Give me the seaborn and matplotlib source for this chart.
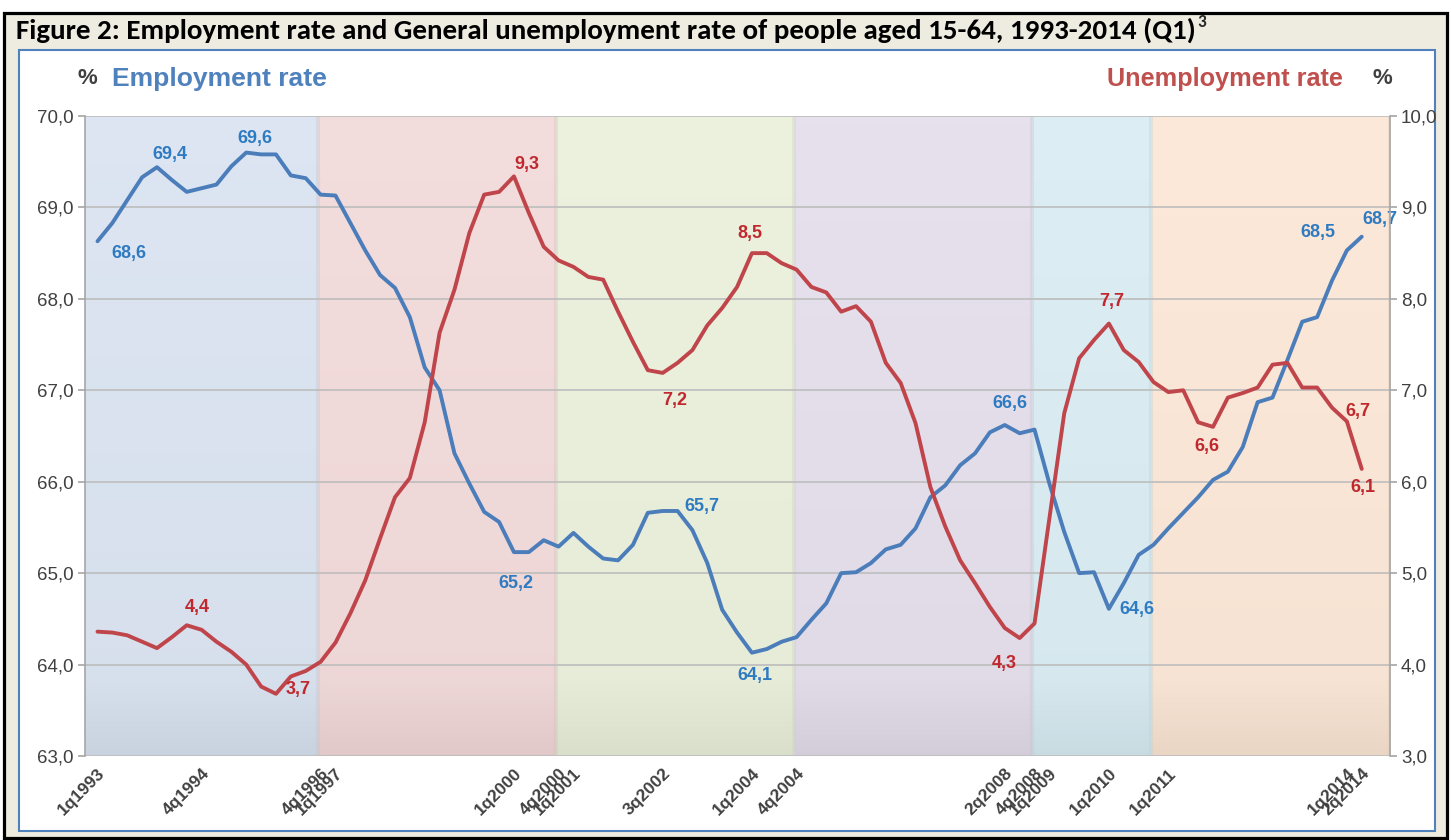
import numpy as np
import pandas as pd
import matplotlib
matplotlib.use("Agg")
import matplotlib.pyplot as plt
from matplotlib import font_manager
from matplotlib.patches import Rectangle
from matplotlib.colors import to_rgb
import seaborn as sns

# ---------------------------------------------------------------- data
quarters = [f"{q}q{y}" for y in range(1993, 2015) for q in range(1, 5)][:86]

employment_rate = [
    68.63, 68.83, 69.08, 69.33, 69.44, 69.30, 69.17, 69.21, 69.25, 69.45,
    69.60, 69.58, 69.58, 69.35, 69.32, 69.14, 69.13, 68.83, 68.53, 68.26,
    68.12, 67.80, 67.25, 67.00, 66.31, 65.98, 65.67, 65.56, 65.23, 65.23,
    65.36, 65.29, 65.44, 65.29, 65.16, 65.14, 65.31, 65.66, 65.68, 65.68,
    65.47, 65.11, 64.60, 64.35, 64.13, 64.17, 64.25, 64.30, 64.49, 64.67,
    65.00, 65.01, 65.11, 65.26, 65.31, 65.49, 65.83, 65.96, 66.18, 66.31,
    66.54, 66.62, 66.53, 66.57, 65.98, 65.45, 65.00, 65.01, 64.61, 64.89,
    65.20, 65.31, 65.49, 65.66, 65.83, 66.02, 66.11, 66.38, 66.87, 66.92,
    67.33, 67.75, 67.80, 68.20, 68.53, 68.68,
]

unemployment_rate = [
    4.36, 4.35, 4.32, 4.25, 4.18, 4.30, 4.43, 4.38, 4.25, 4.14,
    4.00, 3.76, 3.68, 3.87, 3.93, 4.03, 4.24, 4.56, 4.92, 5.38,
    5.83, 6.04, 6.65, 7.63, 8.10, 8.72, 9.14, 9.17, 9.34, 8.94,
    8.57, 8.42, 8.35, 8.24, 8.21, 7.86, 7.53, 7.22, 7.19, 7.30,
    7.44, 7.71, 7.90, 8.13, 8.50, 8.50, 8.39, 8.32, 8.13, 8.07,
    7.86, 7.92, 7.75, 7.30, 7.08, 6.64, 5.94, 5.51, 5.14, 4.89,
    4.63, 4.40, 4.29, 4.45, 5.60, 6.75, 7.35, 7.55, 7.73, 7.44,
    7.31, 7.09, 6.98, 7.00, 6.65, 6.60, 6.92, 6.97, 7.03, 7.28,
    7.30, 7.03, 7.03, 6.81, 6.66, 6.14,
]

axis_quarters = ["1q1993", "4q1994", "4q1996", "1q1997", "1q2000", "4q2000",
                 "1q2001", "3q2002", "1q2004", "4q2004", "2q2008", "4q2008",
                 "1q2009", "1q2010", "1q2011", "1q2014", "2q2014"]

employment_labelled = ["1q1993", "1q1994", "3q1995", "1q2000", "3q2002",
                       "1q2004", "2q2008", "1q2010", "1q2014", "2q2014"]
unemployment_labelled = ["3q1994", "1q1996", "1q2000", "3q2002", "1q2004",
                         "3q2008", "1q2010", "4q2011", "1q2014", "2q2014"]

period_starts = ["1q1993", "1q1997", "1q2001", "1q2005", "1q2009", "1q2011"]

title_text = ("Figure 2: Employment rate and General unemployment rate of "
              "people aged 15-64, 1993-2014 (Q1)")
left_axis_name = "Employment rate"
right_axis_name = "Unemployment rate"

# ---------------------------------------------------------------- style
W, H = 1451, 840
band_colors = ["#D8E2F0", "#F2D8D8", "#EAF0DA", "#E3DDEA", "#D8ECF3", "#FCE6D4"]
EMP_LINE, UNE_LINE = "#4A7DBA", "#C0454B"
EMP_TEXT, UNE_TEXT = "#2F7BC2", "#C0282E"
GREY_TEXT = "#404040"

sns.set_theme(style="white")
names = {f.name for f in font_manager.fontManager.ttflist}
narrow = "Liberation Sans Narrow" if "Liberation Sans Narrow" in names else "Liberation Sans"
title_font = "Carlito" if "Carlito" in names else "Lato"
plt.rcParams["font.family"] = [narrow, "DejaVu Sans"]

df = pd.DataFrame({
    "quarter": quarters,
    "pos": np.arange(len(quarters)),
    "employment": employment_rate,
    "unemployment": unemployment_rate,
})
pos = {q: i for i, q in enumerate(quarters)}

fig = plt.figure(figsize=(W / 100, H / 100), dpi=100)
fig.patch.set_facecolor("white")

def fx(px):
    return px / W

def fy(py):
    return 1 - py / H

# frame: beige panel with black border, white chart area with blue border
fig.add_artist(Rectangle((fx(4), fy(838)), fx(1443), (834 - 12) / H + 0.004,
                         transform=fig.transFigure, facecolor="#EEECE1",
                         edgecolor="black", lw=2.3, zorder=-10))
fig.add_artist(Rectangle((fx(19), fy(831)), fx(1416), (831 - 50) / H,
                         transform=fig.transFigure, facecolor="white",
                         edgecolor="#4F81BD", lw=1.5, zorder=-9))

ax = fig.add_axes([fx(85), fy(756), fx(1390 - 85), (756 - 116) / H])
ax.set_facecolor("none")
ax2 = ax.twinx()
ax2.set_facecolor("none")

x_left, x_right = -0.84, 86.9
edges = [x_left] + [pos[q] - 1.2 for q in period_starts[1:]] + [x_right]

# shaded periods with a gentle vertical gradient
grad = np.linspace(0, 1, 256)[:, None]
for c, x0, x1 in zip(band_colors, edges[:-1], edges[1:]):
    base = np.array(to_rgb(c))
    top = base + (1 - base) * 0.12
    bot = base * 0.93
    shade = np.where(grad < 0.88, grad / 0.88 * 0.3, 0.3 + (grad - 0.88) / 0.12 * 0.7)
    img = top * (1 - shade) + bot * shade
    ax.imshow(img[:, None, :], extent=[x0, x1, 63, 70], aspect="auto",
              origin="upper", interpolation="bilinear", zorder=0)
    ax.axvline(x1, color=base * 0.88, lw=3, alpha=0.35, zorder=0.2)

sns.lineplot(data=df, x="pos", y="employment", ax=ax, color=EMP_LINE,
             lw=2.8, zorder=3)
sns.lineplot(data=df, x="pos", y="unemployment", ax=ax2, color=UNE_LINE,
             lw=2.8, zorder=3)

ax.set_xlim(x_left, x_right)
ax.set_ylim(63, 70)
ax2.set_ylim(3, 10)
ax.set_yticks(np.arange(63, 71))
ax2.set_yticks(np.arange(3, 11))
fmt = lambda v: f"{v:.1f}".replace(".", ",")
ax.set_yticklabels([fmt(v) for v in np.arange(63, 71)])
ax2.set_yticklabels([fmt(v) for v in np.arange(3, 11)])
ax.set_xlabel("")
ax.set_ylabel("")
ax2.set_ylabel("")

ax.set_axisbelow(True)
ax.yaxis.grid(True, color="#BDBDBD", lw=1.2)
ax.xaxis.grid(False)

ax.set_xticks([pos[q] for q in axis_quarters])
ax.set_xticklabels(axis_quarters, rotation=45, ha="right", va="top",
                   rotation_mode="anchor", fontsize=12.5, fontweight="bold",
                   color=GREY_TEXT)
ax.tick_params(axis="x", length=0, pad=7)
ax.tick_params(axis="y", length=5, color="#A6A6A6", width=1.2,
               labelsize=13.5, labelcolor=GREY_TEXT, pad=3)
ax2.tick_params(axis="y", length=5, color="#A6A6A6", width=1.2,
                labelsize=13.5, labelcolor=GREY_TEXT, pad=3)

for a in (ax, ax2):
    for s in ("top", "bottom"):
        a.spines[s].set_visible(False)
ax.spines["right"].set_visible(False)
ax2.spines["left"].set_visible(False)
ax.spines["left"].set_color("#A6A6A6")
ax2.spines["right"].set_color("#A6A6A6")
ax.spines["left"].set_linewidth(1.2)
ax2.spines["right"].set_linewidth(1.2)

# value labels (pixel offsets from the point)
emp_offsets = {"1q1993": (31, -12), "1q1994": (13, 13), "3q1995": (9, 14),
               "1q2000": (2, -31), "3q2002": (39, 4), "1q2004": (3, -23),
               "2q2008": (5, 22), "1q2010": (28, -1), "1q2014": (-29, 18),
               "2q2014": (18, 17)}
une_offsets = {"3q1994": (11, 18), "1q1996": (22, 4), "1q2000": (13, 12),
               "3q2002": (12, -28), "1q2004": (-2, 20), "3q2008": (-15, -25),
               "1q2010": (3, 22), "4q2011": (-6, -20), "1q2014": (11, 10),
               "2q2014": (1, -19)}

for q in employment_labelled:
    v = employment_rate[pos[q]]
    ax.annotate(fmt(v), xy=(pos[q], v), xytext=emp_offsets[q],
                textcoords="offset pixels", ha="center", va="center",
                fontsize=13, fontweight="bold", color=EMP_TEXT, zorder=5)
for q in unemployment_labelled:
    v = unemployment_rate[pos[q]]
    ax2.annotate(fmt(v), xy=(pos[q], v), xytext=une_offsets[q],
                 textcoords="offset pixels", ha="center", va="center",
                 fontsize=13, fontweight="bold", color=UNE_TEXT, zorder=5)

# header texts
fig.canvas.draw()
renderer = fig.canvas.get_renderer()

def fit(t, width_px):
    w = t.get_window_extent(renderer).width
    t.set_fontsize(t.get_fontsize() * width_px / w)

title = fig.text(fx(16), fy(30), title_text, ha="left", va="center",
                 fontsize=20, fontweight="bold", color="black",
                 family=[title_font, "DejaVu Sans"])
fit(title, 1180)
fig.canvas.draw()
tb = title.get_window_extent(renderer)
fig.text(fx(tb.x1 + 2), fy(22), "3", ha="left", va="center",
         fontsize=title.get_fontsize() * 0.6, fontweight="bold",
         family=[title_font, "DejaVu Sans"])

fig.text(fx(87), fy(79), "%", ha="center", va="center", fontsize=16,
         color=GREY_TEXT, fontweight="bold")
lt = fig.text(fx(112), fy(79), left_axis_name, ha="left", va="center",
              fontsize=18, color="#4F81BD", fontweight="bold")
fit(lt, 215)
fig.text(fx(1382), fy(79), "%", ha="center", va="center", fontsize=16,
         color=GREY_TEXT, fontweight="bold")
rt = fig.text(fx(1343), fy(79), right_axis_name, ha="right", va="center",
              fontsize=18, color="#C0504D", fontweight="bold")
fit(rt, 236)

fig.savefig("out.png", dpi=100, facecolor="white")
